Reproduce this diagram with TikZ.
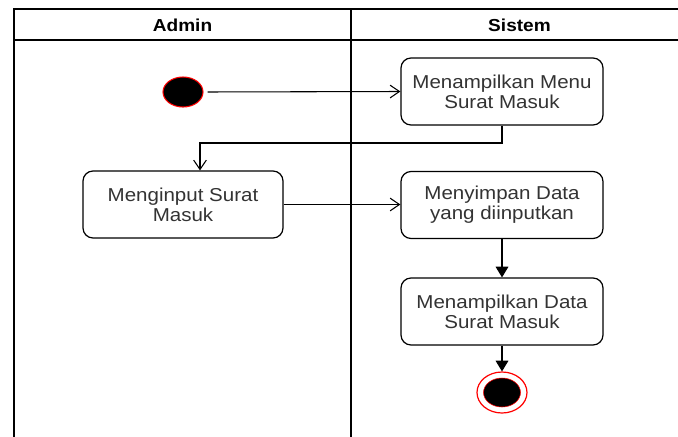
\documentclass[tikz,border=0pt]{standalone}
\usepackage{fontspec}
\setmainfont{Liberation Sans}[FakeStretch=1.1]
\usetikzlibrary{arrows.meta,shapes.geometric}
\definecolor{txt}{HTML}{333333}
\definecolor{ring}{HTML}{FF0000}
\tikzset{
  lane/.style={line width=1.1pt, draw=black},
  lanetitle/.style={font=\fontsize{13}{15}\selectfont\bfseries, text=black},
  action/.style={draw=black, line width=0.9pt, rounded corners=7.5pt, fill=white,
    minimum width=151.5pt, minimum height=50.25pt, align=center, text=txt,
    font=\fontsize{14}{14.8}\selectfont, inner sep=0pt},
  initial/.style={ellipse, draw=ring, fill=black, line width=0.8pt,
    minimum width=30pt, minimum height=22.5pt, inner sep=0pt},
  finalring/.style={ellipse, draw=ring, fill=white, line width=0.9pt,
    minimum width=37.5pt, minimum height=30.75pt, inner sep=0pt},
  finaldot/.style={ellipse, draw=ring, fill=black, line width=0.4pt,
    minimum width=27.75pt, minimum height=21.75pt, inner sep=0pt},
  flow/.style={line width=0.8pt, -{Straight Barb[length=7pt, width=9.5pt, line width=0.8pt]}},
  flowsolid/.style={line width=0.8pt, -{Triangle[length=8pt, width=9.5pt]}}
}
\begin{document}
\begin{tikzpicture}[x=0.75pt, y=-0.75pt]
  \useasboundingbox (0,0) rectangle (678,436);
  \clip (0,0) rectangle (678,436);

  % swimlane frame: outer border, title band and lane divider
  \draw[lane] (14,460) -- (14,9) -- (688,9) -- (688,460);
  \draw[lane] (14,40) -- (688,40);
  \draw[lane] (351,9) -- (351,460);

  \node[lanetitle] (tAdmin) at (182.5,25) {Admin};
  \node[lanetitle] (tSistem) at (519.5,25) {Sistem};

  % activity nodes
  \node[initial] (start) at (183,92) {};
  \node[action] (menu) at (502,91.5) {Menampilkan Menu\\Surat Masuk};
  \node[action, minimum width=150pt] (input) at (183,204.5) {Menginput Surat\\Masuk};
  \node[action] (simpan) at (502,205) {Menyimpan Data\\yang diinputkan};
  \node[action] (tampil) at (502,311.5) {Menampilkan Data\\Surat Masuk};
  \node[finalring] (endring) at (502,392.5) {};
  \node[finaldot] (enddot) at (502,392.5) {};

  \coordinate (bend) at (200,143);

  % control flow
  \draw[flow, shorten <=3pt] (start.east) -- (menu.west);
  \draw[flow] (menu.south) |- (bend) -- (bend |- input.north);
  \draw[flow] (input.east) -- (input.east -| simpan.west);
  \draw[flowsolid] (simpan.south) -- (tampil.north);
  \draw[flowsolid] (tampil.south) -- (endring.north);
\end{tikzpicture}
\end{document}
